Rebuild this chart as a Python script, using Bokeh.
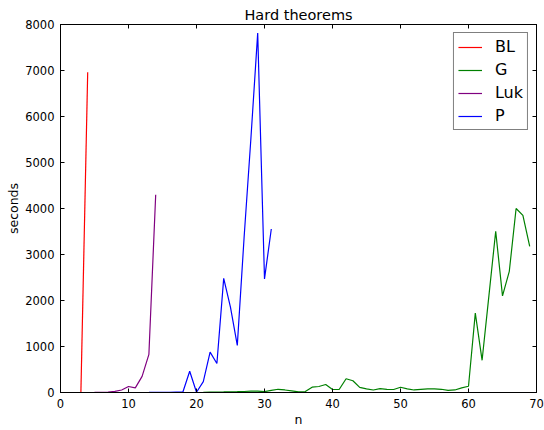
from bokeh.plotting import figure
from bokeh.models import Range1d, LinearAxis, SingleIntervalTicker, Legend, LegendItem
from bokeh.embed import file_html
from bokeh.resources import INLINE

# ---- data ----
bl_n = [3, 4]
bl_s = [1, 6960]

g_n = list(range(21, 70))
g_s = [5, 8, 10, 12, 15, 18, 22, 30, 30, 20,
       45, 70, 55, 35, 15, 20, 115, 130, 175, 65,
       70, 300, 255, 110, 80, 55, 85, 70, 65, 115,
       80, 55, 70, 80, 80, 70, 45, 55, 100, 135,
       1725, 700, 2100, 3505, 2100, 2635, 4000, 3850, 3175]

luk_n = [5, 6, 7, 8, 9, 10, 11, 12, 13, 14]
luk_s = [1, 2, 8, 25, 55, 130, 100, 350, 830, 4300]

p_n = [13, 14, 15, 16, 17, 18, 19, 20, 21, 22, 23, 24, 25, 26, 27, 28, 29, 30, 31]
p_s = [1, 2, 3, 5, 8, 10, 463, 5, 235, 877, 630, 2480, 1850, 1025, 3370, 5520, 7815, 2470, 3555]

series_names = ["BL", "G", "Luk", "P"]
series_colors = ["#ff0000", "#008000", "#800080", "#0000ff"]

x_ticks_interval = 10
y_ticks_interval = 1000

FONT = "DejaVu Sans"

p = figure(frame_width=476, frame_height=368, output_backend="svg", toolbar_location=None,
           x_range=Range1d(0, 70), y_range=Range1d(0, 8000),
           title="Hard theorems",
           min_border_left=60, min_border_right=8, min_border_top=24, min_border_bottom=36)

p.background_fill_color = "white"
p.border_fill_color = "white"
p.outline_line_color = "black"
p.outline_line_width = 1
p.xgrid.visible = False
p.ygrid.visible = False

p.title.text_font = FONT
p.title.text_font_size = "14.5px"
p.title.text_font_style = "normal"
p.title.align = "center"
p.title.standoff = 3
p.title.text_color = "black"


def style_axis(ax, interval, show_labels=True):
    ax.ticker = SingleIntervalTicker(interval=interval)
    ax.major_tick_in = 4
    ax.major_tick_out = 0
    ax.minor_tick_in = 0
    ax.minor_tick_out = 0
    ax.axis_line_color = "black"
    ax.axis_line_width = 1
    ax.major_tick_line_color = "black"
    ax.major_tick_line_width = 1
    ax.major_label_text_font = FONT
    if show_labels:
        ax.major_label_text_color = "black"
        ax.major_label_text_font_size = "11.5px"
        ax.major_label_standoff = 4
    else:
        ax.major_label_text_color = None
        ax.major_label_text_font_size = "1px"
        ax.major_label_standoff = 0
    ax.axis_label_text_font = FONT
    ax.axis_label_text_font_style = "normal"
    ax.axis_label_text_font_size = "12.5px"
    ax.axis_label_text_color = "black"


xax = p.xaxis[0]
yax = p.yaxis[0]
style_axis(xax, x_ticks_interval)
style_axis(yax, y_ticks_interval)
xax.axis_label = "n"
yax.axis_label = "seconds"
xax.major_label_standoff = 6
xax.axis_label_standoff = 1
yax.major_label_standoff = 6
yax.axis_label_standoff = 1
yax.major_label_orientation = "horizontal"

top_ax = LinearAxis()
style_axis(top_ax, x_ticks_interval, show_labels=False)
p.add_layout(top_ax, "above")
right_ax = LinearAxis()
style_axis(right_ax, y_ticks_interval, show_labels=False)
p.add_layout(right_ax, "right")

r_bl = p.line(bl_n, bl_s, line_color=series_colors[0], line_width=1.2)
r_g = p.line(g_n, g_s, line_color=series_colors[1], line_width=1.2)
r_luk = p.line(luk_n, luk_s, line_color=series_colors[2], line_width=1.2)
r_p = p.line(p_n, p_s, line_color=series_colors[3], line_width=1.2)

legend = Legend(items=[LegendItem(label=series_names[0], renderers=[r_bl]),
                       LegendItem(label=series_names[1], renderers=[r_g]),
                       LegendItem(label=series_names[2], renderers=[r_luk]),
                       LegendItem(label=series_names[3], renderers=[r_p])],
                location="top_right")
legend.margin = 8
legend.padding = 4
legend.spacing = 4
legend.glyph_width = 24
legend.glyph_height = 18
legend.label_height = 18
legend.label_standoff = 13
legend.label_text_font = FONT
legend.label_text_font_size = "16px"
legend.label_text_color = "black"
legend.border_line_color = "black"
legend.border_line_width = 1
legend.background_fill_color = "white"
legend.background_fill_alpha = 1
p.add_layout(legend)

open("out.html", "w").write(file_html(p, INLINE))
